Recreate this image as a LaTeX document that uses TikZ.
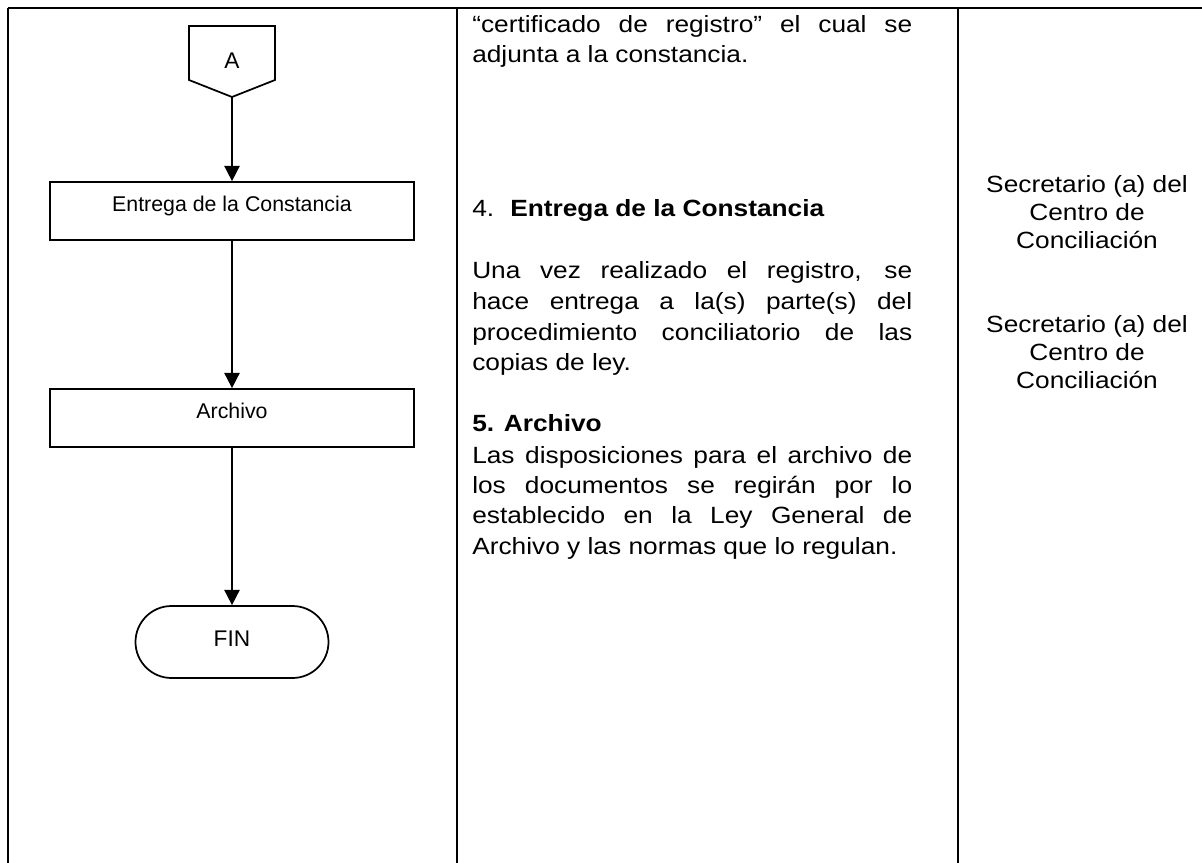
\documentclass[tikz,border=0pt]{standalone}
\usepackage{fontspec}
\setmainfont{Liberation Sans}
\newfontfamily\widefont[FakeStretch=1.12]{Liberation Sans}
\usetikzlibrary{arrows.meta}
\begin{document}
\begin{tikzpicture}[x=0.75pt,y=-0.75pt,
  rule/.style={line width=1.4pt},
  flowbox/.style={draw, line width=1.3pt, minimum width=273pt, minimum height=43.5pt, inner sep=0pt,
    font=\fontsize{16}{19}\selectfont, text height=9pt, text depth=8pt},
  termbox/.style={draw, line width=1.3pt, minimum width=144.75pt, minimum height=54pt, inner sep=0pt,
    rounded corners=27pt, font=\fontsize{17}{20}\selectfont, text height=11pt, text depth=4pt},
  flowarrow/.style={line width=1.3pt, -{Triangle[length=11.5pt,width=11.5pt]}},
  mtxt/.style={anchor=base west, inner sep=0pt, font=\widefont\fontsize{17.6}{21}\selectfont},
  rtxt/.style={anchor=base, inner sep=0pt, font=\widefont\fontsize{17.6}{21}\selectfont},
  ]
\useasboundingbox (0,0) rectangle (1202,863);
\fill[white] (0,0) rectangle (1202,863);

% table rules
\draw[rule] (8,8) -- (1210,8);
\draw[rule] (8,8) -- (8,870);
\draw[rule] (457,8) -- (457,870);
\draw[rule] (958,8) -- (958,870);

% off-page connector A
\draw[line width=1.3pt, line join=miter] (189,26) -- (275,26) -- (275,80) -- (232,97) -- (189,80) -- cycle;
\node[anchor=base, inner sep=0pt, font=\fontsize{17}{20}\selectfont] (A) at (232,68.3) {A};
\coordinate (Apt) at (232,97);

% flow boxes
\node[flowbox] (e1) at (232,211) {Entrega de la Constancia};
\node[flowbox] (ar) at (232,418) {Archivo};
\node[termbox] (fin) at (232,642) {FIN};

\draw[flowarrow] (Apt) -- (e1.north);
\draw[flowarrow] (e1.south) -- (ar.north);
\draw[flowarrow] (ar.south) -- (fin.north);

% middle column text
\def\jw{330pt}
\node[mtxt] (m1) at (472,33) {\makebox[\jw][s]{“certificado de registro” el cual se}};
\node[mtxt] (m2) at (472,63) {adjunta a la constancia.};
\node[mtxt] (m3) at (472,216.7) {\makebox[28.5pt][l]{4.}\textbf{Entrega de la Constancia}};
\node[mtxt] (m4) at (472,278) {\makebox[\jw][s]{Una vez realizado el registro, se}};
\node[mtxt] (m5) at (472,309) {\makebox[\jw][s]{hace entrega a la(s) parte(s) del}};
\node[mtxt] (m6) at (472,340) {\makebox[\jw][s]{procedimiento conciliatorio de las}};
\node[mtxt] (m7) at (472,370.5) {copias de ley.};
\node[mtxt] (m8) at (472,431.7) {\textbf{5. Archivo}};
\node[mtxt] (m9) at (472,463) {\makebox[\jw][s]{Las disposiciones para el archivo de}};
\node[mtxt] (m10) at (472,493.3) {\makebox[\jw][s]{los documentos se regirán por lo}};
\node[mtxt] (m11) at (472,523.5) {\makebox[\jw][s]{establecido en la Ley General de}};
\node[mtxt] (m12) at (472,554) {Archivo y las normas que lo regulan.};

% right column text
\node[rtxt] (r1) at (1087,192) {Secretario (a) del};
\node[rtxt] (r2) at (1087,220) {Centro de};
\node[rtxt] (r3) at (1087,248) {Conciliación};
\node[rtxt] (r4) at (1087,332) {Secretario (a) del};
\node[rtxt] (r5) at (1087,360) {Centro de};
\node[rtxt] (r6) at (1087,388) {Conciliación};
\end{tikzpicture}
\end{document}
